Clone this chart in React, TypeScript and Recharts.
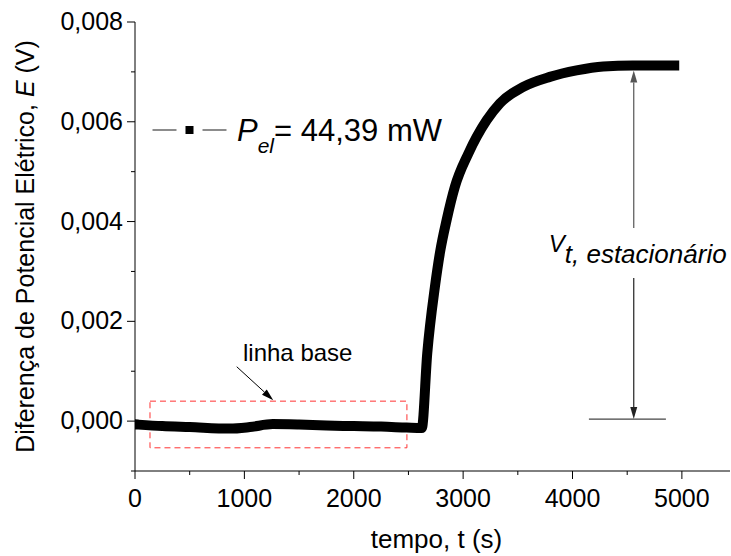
import React from 'react';
import {
  LineChart,
  Line,
  XAxis,
  YAxis,
  ReferenceArea,
  ReferenceLine,
  Legend,
  Label,
} from 'recharts';

// Measured potential difference E (V) against time t (s)
const timeSeconds = [
  30, 250, 500, 868, 1050, 1260, 1500, 1750, 2000, 2250, 2483, 2622,
  2672, 2742, 2790, 2849, 2925, 3047, 3215, 3336, 3550, 3793, 4037, 4281,
  4550, 4930,
];
const potentialVolts = [
  -0.00007, -0.0001, -0.00012, -0.00015, -0.00012, -0.00006, -0.00007,
  -0.00009, -0.0001, -0.00011, -0.00013, -0.00014, 0.00136, 0.00269,
  0.0034, 0.00403, 0.0047, 0.00536, 0.00603, 0.00637, 0.0067, 0.0069,
  0.00703, 0.00711, 0.00713, 0.00713,
];

// Axis ticks (majors get a label, the rest are minor ticks)
const xTicks = [0, 500, 1000, 1500, 2000, 2500, 3000, 3500, 4000, 4500, 5000];
const yTicks = [-0.001, 0, 0.001, 0.002, 0.003, 0.004, 0.005, 0.006, 0.007, 0.008];
const xDomain = [0, 5440];
const yDomain = [-0.001, 0.008];

// Annotation anchors in data units
const baselineBox = { t1: 137, t2: 2486, e1: -0.000535, e2: 0.0004 };
const baselineArrow = [
  { x: 930, y: 0.00109 },
  { x: 1264, y: 0.00042 },
];
const steadyUpArrow = [
  { x: 4560, y: 0.00387 },
  { x: 4560, y: 0.00703 },
];
const steadyDownArrow = [
  { x: 4560, y: 0.00287 },
  { x: 4560, y: 0.00004 },
];
const steadyBaseLine = [
  { x: 4150, y: 0.00004 },
  { x: 4854, y: 0.00004 },
];

const chartData = timeSeconds.map((t, i) => ({ t, e: potentialVolts[i] }));

const FONT = "'Liberation Sans', Arial, Helvetica, sans-serif";

const isMajorX = (v: number) => Math.round(v) % 1000 === 0;
const isMajorY = (v: number) => Math.round(v * 1000) % 2 === 0;
const fmtY = (v: number) => v.toFixed(3).replace('.', ',');

const BottomTick = (props: any) => {
  const { x, y, payload } = props;
  const major = isMajorX(payload.value);
  return (
    <g>
      <line x1={x} x2={x} y1={y} y2={y + (major ? 8 : 4)} stroke="#000" strokeWidth={1} />
      {major && (
        <text x={x} y={y + 36} textAnchor="middle" fontSize={25} fontFamily={FONT} fill="#000">
          {payload.value}
        </text>
      )}
    </g>
  );
};

const TopTick = (props: any) => {
  const { x, y, payload } = props;
  const major = isMajorX(payload.value);
  return <line x1={x} x2={x} y1={y} y2={y + (major ? 8 : 4)} stroke="#000" strokeWidth={1} />;
};

const LeftTick = (props: any) => {
  const { x, y, payload } = props;
  const major = isMajorY(payload.value);
  return (
    <g>
      <line x1={x - (major ? 8 : 4)} x2={x} y1={y} y2={y} stroke="#000" strokeWidth={1} />
      {major && (
        <text x={x - 12} y={y + 8} textAnchor="end" fontSize={25} fontFamily={FONT} fill="#000">
          {fmtY(payload.value)}
        </text>
      )}
    </g>
  );
};

const RightTick = (props: any) => {
  const { x, y, payload } = props;
  const major = isMajorY(payload.value);
  return <line x1={x - (major ? 8 : 4)} x2={x} y1={y} y2={y} stroke="#000" strokeWidth={1} />;
};

const arrowShape = (color: string, width: number) => (props: any) => {
  const { x1, y1, x2, y2 } = props;
  const dx = x2 - x1;
  const dy = y2 - y1;
  const len = Math.hypot(dx, dy) || 1;
  const ux = dx / len;
  const uy = dy / len;
  const headLen = 12;
  const headHalf = 3.5;
  const bx = x2 - ux * headLen;
  const by = y2 - uy * headLen;
  const pts = `${x2},${y2} ${bx - uy * headHalf},${by + ux * headHalf} ${bx + uy * headHalf},${by - ux * headHalf}`;
  return (
    <g>
      <line x1={x1} y1={y1} x2={bx} y2={by} stroke={color} strokeWidth={width} />
      <polygon points={pts} fill={color} />
    </g>
  );
};

const baselineArrowShape = (props: any) => {
  const { x1, y1 } = props;
  return (
    <g>
      {arrowShape('#000', 1)(props)}
      <text x={x1 + 61} y={y1 - 6} textAnchor="middle" fontSize={24} fontFamily={FONT} fill="#000">
        linha base
      </text>
    </g>
  );
};

const steadyDownShape = (props: any) => {
  const { x1, y1 } = props;
  return (
    <g>
      {arrowShape('#222', 1.2)(props)}
      <text x={x1 - 85} y={y1 - 26} fontFamily={FONT} fill="#000" fontStyle="italic">
        <tspan fontSize={24}>V</tspan>
        <tspan fontSize={26} dy={11}>
          t, estacionário
        </tspan>
      </text>
    </g>
  );
};

const LegendContent = () => (
  <svg width={340} height={60} style={{ overflow: 'visible', display: 'block' }}>
    <line x1={12.5} x2={36.5} y1={25} y2={25} stroke="#666" strokeWidth={1.5} />
    <rect x={45.5} y={21} width={8} height={8} fill="#000" />
    <line x1={62.5} x2={86.5} y1={25} y2={25} stroke="#666" strokeWidth={1.5} />
    <text x={97} y={36} fontFamily={FONT} fontSize={31} fill="#000">
      <tspan fontStyle="italic">P</tspan>
      <tspan fontStyle="italic" fontSize={21} dy={12}>
        el
      </tspan>
      <tspan dy={-12}>= 44,39 mW</tspan>
    </text>
  </svg>
);

const YTitle = (props: any) => {
  const { viewBox } = props;
  const cx = viewBox.x + 34;
  const cy = viewBox.y + viewBox.height / 2;
  return (
    <text
      x={cx}
      y={cy}
      transform={`rotate(-90, ${cx}, ${cy})`}
      textAnchor="middle"
      fontSize={25}
      fontFamily={FONT}
      fill="#000"
    >
      Diferença de Potencial Elétrico, <tspan fontStyle="italic">E</tspan> (V)
    </text>
  );
};

const XTitle = (props: any) => {
  const { viewBox } = props;
  return (
    <text
      x={viewBox.x + viewBox.width / 2 + 4}
      y={viewBox.y + 77}
      textAnchor="middle"
      fontSize={26}
      fontFamily={FONT}
      fill="#000"
    >
      tempo, t (s)
    </text>
  );
};

export default function App() {
  return (
    <div style={{ position: 'absolute', left: 0, top: 0, width: 731, height: 556, background: '#fff' }}>
      <LineChart
        width={731}
        height={556}
        data={chartData}
        margin={{ top: 22, right: 1, bottom: 0, left: 0 }}
      >
        <XAxis
          dataKey="t"
          type="number"
          domain={xDomain}
          ticks={xTicks}
          interval={0}
          allowDataOverflow
          height={85}
          tickSize={0}
          tickMargin={0}
          tickLine={false}
          tick={<BottomTick />}
          axisLine={{ stroke: '#000', strokeWidth: 1 }}
        >
          <Label content={<XTitle />} />
        </XAxis>
        <XAxis
          xAxisId="top"
          orientation="top"
          type="number"
          domain={xDomain}
          ticks={xTicks}
          interval={0}
          allowDataOverflow
          height={0}
          tickSize={0}
          tickMargin={0}
          tickLine={false}
          tick={<TopTick />}
          axisLine={{ stroke: '#000', strokeWidth: 1 }}
        />
        <YAxis
          type="number"
          domain={yDomain}
          ticks={yTicks}
          interval={0}
          allowDataOverflow
          width={135}
          tickSize={0}
          tickMargin={0}
          tickLine={false}
          tick={<LeftTick />}
          axisLine={{ stroke: '#000', strokeWidth: 1 }}
        >
          <Label content={<YTitle />} />
        </YAxis>
        <YAxis
          yAxisId="right"
          orientation="right"
          type="number"
          domain={yDomain}
          ticks={yTicks}
          interval={0}
          allowDataOverflow
          width={0}
          tickSize={0}
          tickMargin={0}
          tickLine={false}
          tick={<RightTick />}
          axisLine={{ stroke: '#000', strokeWidth: 1 }}
        />
        <ReferenceArea
          x1={baselineBox.t1}
          x2={baselineBox.t2}
          y1={baselineBox.e1}
          y2={baselineBox.e2}
          fill="none"
          stroke="#ff3333"
          strokeWidth={1}
          strokeDasharray="6 4"
        />
        <Line
          dataKey="e"
          type="monotone"
          stroke="#000"
          strokeWidth={10}
          strokeLinecap="square"
          dot={false}
          isAnimationActive={false}
          legendType="square"
        />
        <ReferenceLine segment={baselineArrow} shape={baselineArrowShape} />
        <ReferenceLine segment={steadyUpArrow} shape={arrowShape('#555', 1.2)} />
        <ReferenceLine segment={steadyDownArrow} shape={steadyDownShape} />
        <ReferenceLine segment={steadyBaseLine} stroke="#444" strokeWidth={1.2} />
        <Legend
          layout="horizontal"
          verticalAlign="middle"
          align="center"
          content={<LegendContent />}
          wrapperStyle={{ left: 140, top: 105, width: 340, height: 60 }}
        />
      </LineChart>
    </div>
  );
}
